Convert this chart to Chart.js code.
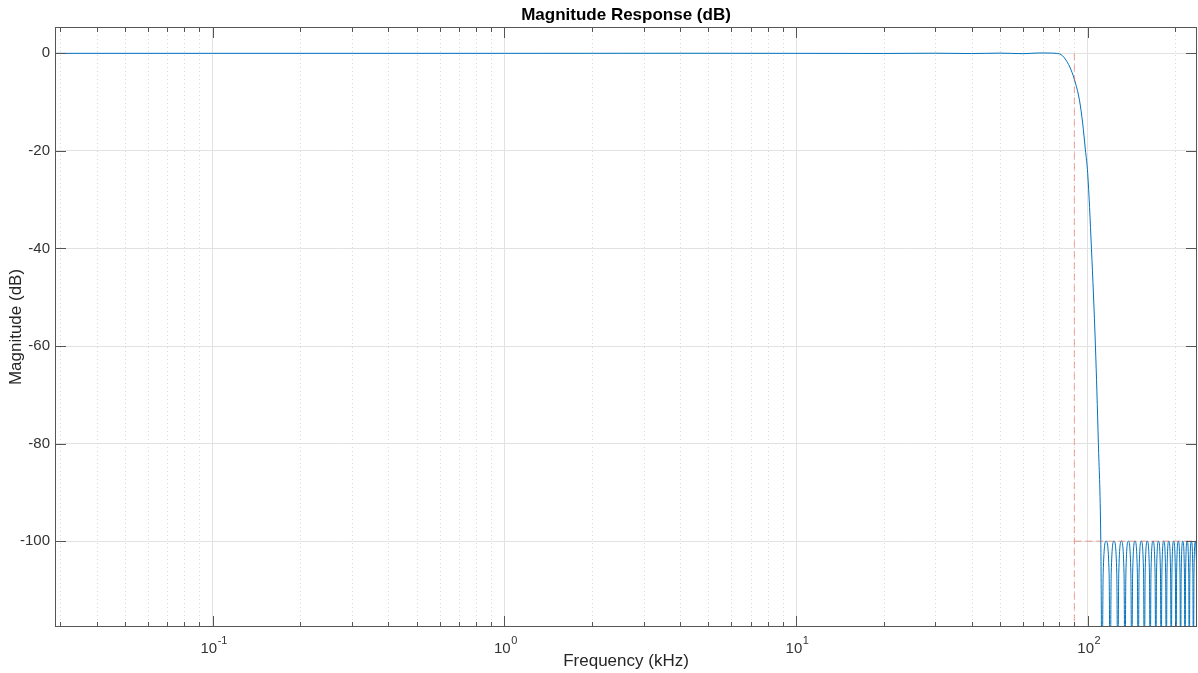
<!DOCTYPE html>
<html lang="en">
<head>
<meta charset="UTF-8">
<title>Magnitude Response (dB)</title>
<style>
  body { margin: 0; background: #fff; }
  #wrap { width: 1198px; height: 673px; position: relative; }
</style>
</head>
<body>
<div id="wrap"><canvas id="chart"></canvas></div>
<script src="https://cdn.jsdelivr.net/npm/chart.js"></script>
<script>
// frequency in kHz, magnitude in dB
const passbandFreq = [0.0288, 0.1, 1, 4, 10, 20, 30, 40, 50, 60, 68, 75, 78];
const passbandMag  = [0, 0, 0, 0.02, 0, -0.02, 0.03, -0.04, 0.05, -0.07, 0.08, 0.06, 0];

const transitionFreq = [80, 82, 84.3, 87.7, 90.8, 93.7, 96.1, 98.2, 100, 103, 106.3, 108.8, 110.9];
const transitionMag  = [-0.1, -0.5, -1.4, -3.4, -6.1, -9.6, -14.3, -19.8, -24.6, -40, -60, -80, -100];

// stopband lobes: null, shoulder, peak, shoulder
const stopbandFreq = [
  112.0, 113.0, 115.7, 118.4,  119.4, 120.4, 123.1, 125.8,  126.8, 127.8, 130.5, 133.2,
  134.2, 135.2, 137.9, 140.6,  141.6, 142.6, 145.3, 148.0,  149.0, 150.0, 152.7, 155.4,
  156.4, 157.4, 160.1, 162.8,  163.8, 164.8, 167.5, 170.2,  171.2, 172.2, 174.9, 177.6,
  178.6, 179.6, 182.3, 185.0,  186.0, 187.0, 189.7, 192.4,  193.4, 194.4, 197.1, 199.8,
  200.8, 201.8, 204.5, 207.2,  208.2, 209.2, 211.9, 214.6,  215.6, 216.6, 219.3, 222.0,
  223.0, 224.0, 226.7, 229.4,  230.4, 231.4, 234.1, 236.8,  237.0
];
const stopbandMag = [
  -130, -106.5, -100, -106.5,  -130, -106.5, -100, -106.5,  -130, -106.5, -100, -106.5,
  -130, -106.5, -100, -106.5,  -130, -106.5, -100, -106.5,  -130, -106.5, -100, -106.5,
  -130, -106.5, -100, -106.5,  -130, -106.5, -100, -106.5,  -130, -106.5, -100, -106.5,
  -130, -106.5, -100, -106.5,  -130, -106.5, -100, -106.5,  -130, -106.5, -100, -106.5,
  -130, -106.5, -100, -106.5,  -130, -106.5, -100, -106.5,  -130, -106.5, -100, -106.5,
  -130, -106.5, -100, -106.5,  -130, -106.5, -100, -106.5,  -107
];

// red dashed spec mask
const maskVertFreq = [90, 90];
const maskVertMag  = [0, -117.6];
const maskHorzFreq = [90, 237];
const maskHorzMag  = [-100, -100];

const xMin = 0.0288, xMax = 237;
const yMin = -117.6, yMax = 5.4;
const xMajor = [0.1, 1, 10, 100];
const xExponents = ['-1', '0', '1', '2'];
const xMinor = [0.03, 0.04, 0.05, 0.06, 0.07, 0.08, 0.09,
                0.2, 0.3, 0.4, 0.5, 0.6, 0.7, 0.8, 0.9,
                2, 3, 4, 5, 6, 7, 8, 9,
                20, 30, 40, 50, 60, 70, 80, 90,
                200];
const yTicks = [-100, -80, -60, -40, -20, 0];

const toPoints = (xs, ys) => xs.map((x, i) => ({ x: x, y: ys[i] }));

const responseFreq = passbandFreq.concat(transitionFreq, stopbandFreq);
const responseMag = passbandMag.concat(transitionMag, stopbandMag);

const FONT = "'Liberation Sans', Arial, Helvetica, sans-serif";
const AXIS_COLOR = '#555555';
const TEXT_COLOR = '#333333';

// MATLAB-style box, inward ticks, dotted minor grid and 10^n labels
const matlabBox = {
  id: 'matlabBox',
  beforeDatasetsDraw(chart) {
    const { ctx, chartArea: a, scales: { x } } = chart;
    ctx.save();
    ctx.strokeStyle = '#dadada';
    ctx.lineWidth = 1;
    ctx.setLineDash([1, 3]);
    xMinor.forEach(v => {
      const px = Math.round(x.getPixelForValue(v)) + 0.5;
      ctx.beginPath();
      ctx.moveTo(px, a.top);
      ctx.lineTo(px, a.bottom);
      ctx.stroke();
    });
    ctx.restore();
  },
  afterDraw(chart) {
    const { ctx, chartArea: a, scales: { x, y } } = chart;
    ctx.save();
    ctx.strokeStyle = AXIS_COLOR;
    ctx.lineWidth = 1;
    ctx.setLineDash([]);
    ctx.strokeRect(Math.round(a.left) + 0.5, Math.round(a.top) + 0.5,
                   Math.round(a.right - a.left) - 1, Math.round(a.bottom - a.top) - 1);
    const vTick = (v, len) => {
      const px = Math.round(x.getPixelForValue(v)) + 0.5;
      ctx.beginPath();
      ctx.moveTo(px, a.bottom); ctx.lineTo(px, a.bottom - len);
      ctx.moveTo(px, a.top); ctx.lineTo(px, a.top + len);
      ctx.stroke();
    };
    xMajor.forEach(v => vTick(v, 11));
    xMinor.forEach(v => vTick(v, 5));
    yTicks.forEach(v => {
      const py = Math.round(y.getPixelForValue(v)) + 0.5;
      ctx.beginPath();
      ctx.moveTo(a.left, py); ctx.lineTo(a.left + 11, py);
      ctx.moveTo(a.right, py); ctx.lineTo(a.right - 11, py);
      ctx.stroke();
    });

    // x tick labels with raised exponents
    ctx.fillStyle = TEXT_COLOR;
    ctx.textBaseline = 'alphabetic';
    ctx.textAlign = 'left';
    const baseFont = '15px ' + FONT;
    const expFont = '11px ' + FONT;
    xMajor.forEach((v, i) => {
      const px = x.getPixelForValue(v);
      ctx.font = baseFont;
      const w1 = ctx.measureText('10').width;
      ctx.font = expFont;
      const w2 = ctx.measureText(xExponents[i]).width;
      const x0 = px - (w1 + w2) / 2 + 1;
      ctx.font = baseFont;
      ctx.fillText('10', x0, a.bottom + 26);
      ctx.font = expFont;
      ctx.fillText(xExponents[i], x0 + w1 + 0.5, a.bottom + 17);
    });
    ctx.restore();
  }
};

const ctx = document.getElementById('chart').getContext('2d');
new Chart(ctx, {
  type: 'line',
  data: {
    datasets: [
      {
        label: 'Mask',
        data: toPoints(maskVertFreq, maskVertMag),
        borderColor: 'rgba(225, 90, 70, 0.55)',
        borderWidth: 1,
        borderDash: [7, 4],
        pointRadius: 0,
        order: 0
      },
      {
        label: 'Mask stop',
        data: toPoints(maskHorzFreq, maskHorzMag),
        borderColor: 'rgba(225, 90, 70, 0.55)',
        borderWidth: 1,
        borderDash: [7, 4],
        pointRadius: 0,
        order: 0
      },
      {
        label: 'Response',
        data: toPoints(responseFreq, responseMag),
        borderColor: '#0072BD',
        borderWidth: 1,
        pointRadius: 0,
        cubicInterpolationMode: 'monotone',
        order: 1
      }
    ]
  },
  options: {
    responsive: true,
    maintainAspectRatio: false,
    animation: false,
    events: [],
    layout: { padding: { left: 0, right: 1, top: 0, bottom: 0 } },
    plugins: {
      legend: { display: false },
      tooltip: { enabled: false },
      title: {
        display: true,
        fullSize: false,
        text: 'Magnitude Response (dB)',
        color: '#000',
        font: { family: FONT, size: 17, weight: 'bold' },
        padding: { top: 5, bottom: 1.6 }
      }
    },
    scales: {
      x: {
        type: 'logarithmic',
        min: xMin,
        max: xMax,
        afterBuildTicks: s => { s.ticks = xMajor.map(v => ({ value: v })); },
        afterFit: s => { s.height = 46; },
        grid: { color: '#e2e2e2', lineWidth: 1, drawTicks: false },
        border: { display: false },
        ticks: { display: false },
        title: {
          display: true,
          text: 'Frequency (kHz)',
          color: '#262626',
          font: { family: FONT, size: 17 },
          padding: { top: 0, bottom: 1 }
        }
      },
      y: {
        type: 'linear',
        min: yMin,
        max: yMax,
        afterBuildTicks: s => { s.ticks = yTicks.map(v => ({ value: v })); },
        afterFit: s => { s.width = 55; },
        grid: { color: '#e2e2e2', lineWidth: 1, drawTicks: false },
        border: { display: false },
        ticks: {
          padding: 5,
          color: TEXT_COLOR,
          font: { family: FONT, size: 15 }
        },
        title: {
          display: true,
          text: 'Magnitude (dB)',
          color: '#262626',
          font: { family: FONT, size: 17 },
          padding: { top: 6, bottom: 0 }
        }
      }
    }
  },
  plugins: [matlabBox]
});
</script>
</body>
</html>
